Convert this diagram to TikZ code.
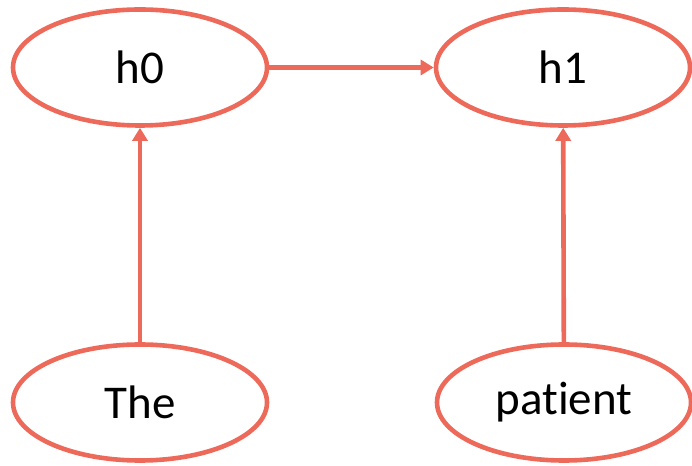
\documentclass[tikz,border=0pt]{standalone}
\usepackage{fontspec}
\setmainfont[Ligatures={NoCommon}]{Carlito}
\usetikzlibrary{shapes.geometric,arrows.meta}
\definecolor{salmon}{RGB}{237,105,90}
\tikzset{
  word/.style={ellipse,draw=salmon,line width=4.6pt,fill=white,minimum width=254pt,minimum height=116pt,inner sep=0pt,font=\fontsize{47}{52}\selectfont},
  link/.style={draw=salmon,line width=4.6pt,-{Triangle[length=13pt,width=15pt]}}
}
\begin{document}
\begin{tikzpicture}[x=1pt,y=1pt]
\useasboundingbox (0,0) rectangle (692,465);
\node[word] (h0) at (140,397.5) {h0};
\node[word] (h1) at (563,397.5) {h1};
\node[word] (the) at (140,62.5) {The};
\node[word] (patient) at (564,62.5) {patient};
\draw[link] (h0) -- (h1);
\draw[link] (the) -- (h0);
\draw[link] (patient) -- (h1);
\end{tikzpicture}
\end{document}
